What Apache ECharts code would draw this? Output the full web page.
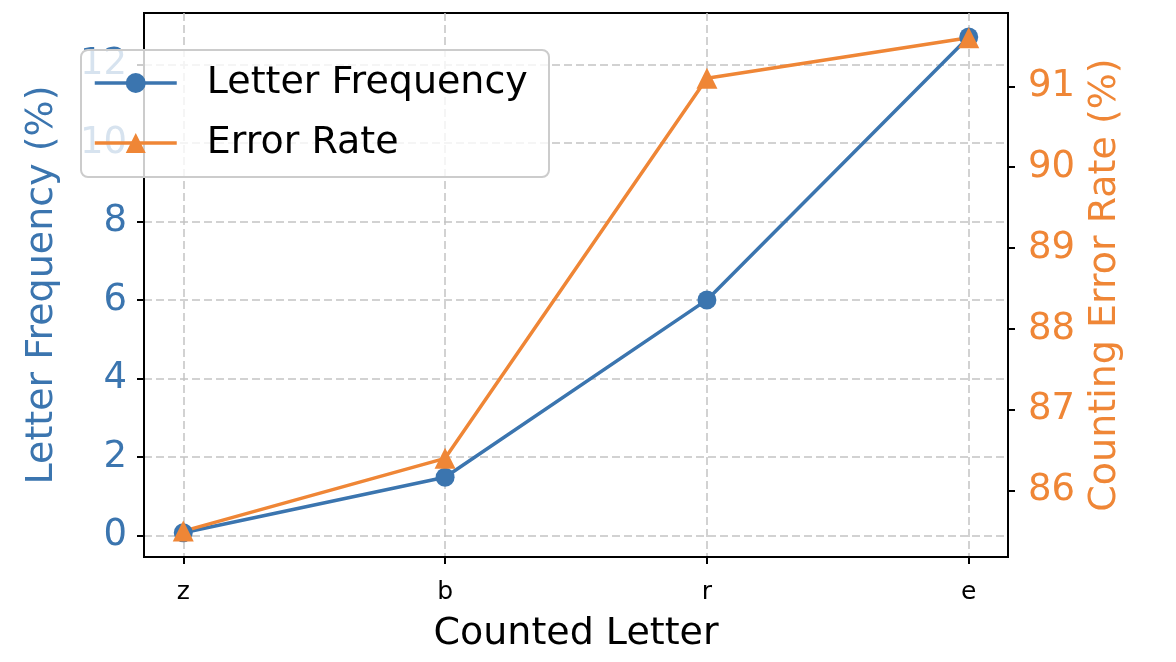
<!DOCTYPE html>
<html>
<head>
<meta charset="utf-8">
<script src="https://cdn.jsdelivr.net/npm/echarts@6/dist/echarts.min.js"></script>
<style>
  html, body { margin: 0; padding: 0; background: #fff; }
  #chart { width: 1176px; height: 662px; }
</style>
</head>
<body>
<div id="chart"></div>
<script>
// letters on the x axis, in plotted order
const letters = ['z', 'b', 'r', 'e'];
// letter frequency (%) - left axis
const freqValues = [0.07, 1.48, 6.0, 12.7];
// counting error rate (%) - right axis
const errorValues = [85.5, 86.4, 91.1, 91.6];
const freqTicks = [0, 2, 4, 6, 8, 10, 12];
const errorTicks = [86, 87, 88, 89, 90, 91];
const letterTicks = [0, 1, 2, 3];

const blue = '#3b75af';
const orange = '#ef8636';
const font = 'DejaVu Sans';

const chart = echarts.init(document.getElementById('chart'));

chart.setOption({
    animation: false,
    textStyle: { fontFamily: font },
    grid: {
        left: 144, right: 168, top: 13, bottom: 105,
        show: true,
        borderColor: '#000',
        borderWidth: 2,
        backgroundColor: 'transparent'
    },
    // legend frame (semi-transparent, sits over the tick labels)
    graphic: {
        elements: [{
            type: 'rect',
            left: 80,
            top: 49,
            z: 3,
            shape: { width: 468, height: 127, r: 7 },
            style: { fill: 'rgba(255,255,255,0.8)', stroke: '#cccccc', lineWidth: 2 }
        }]
    },
    legend: {
        left: 80,
        top: 49,
        z: 5,
        orient: 'vertical',
        align: 'left',
        padding: [15, 18, 13, 13],
        backgroundColor: 'rgba(0,0,0,0)',
        borderWidth: 0,
        itemWidth: 82,
        itemHeight: 25,
        itemGap: 22,
        lineStyle: { width: 3.5 },
        textStyle: {
            fontFamily: font,
            fontSize: 38,
            color: '#000',
            padding: [0, 0, 0, 25]
        },
        data: ['Letter Frequency', 'Error Rate']
    },
    xAxis: {
        type: 'value',
        min: -0.15,
        max: 3.15,
        name: 'Counted Letter',
        nameLocation: 'middle',
        nameGap: 58,
        nameTextStyle: { fontSize: 38, color: '#000', fontFamily: font },
        axisLine: { onZero: false, lineStyle: { color: '#000', width: 2 } },
        axisTick: { customValues: letterTicks, length: 7, lineStyle: { color: '#000', width: 2 } },
        axisLabel: {
            customValues: letterTicks,
            fontSize: 25,
            color: '#000',
            margin: 23,
            formatter: v => letters[Math.round(v)]
        },
        splitLine: { show: true, lineStyle: { color: '#c4c4c4', type: [8, 4], width: 1.5 } }
    },
    yAxis: [{
        type: 'value',
        min: -0.55,
        max: 13.31,
        position: 'left',
        name: 'Letter Frequency (%)',
        nameLocation: 'middle',
        nameGap: 83,
        nameTextStyle: { fontSize: 38, color: blue, fontFamily: font },
        axisLine: { show: true, onZero: false, lineStyle: { color: '#000', width: 2 } },
        axisTick: { show: true, customValues: freqTicks, length: 7, lineStyle: { color: '#000', width: 2 } },
        axisLabel: { customValues: freqTicks, fontSize: 37, color: blue, margin: 17 },
        splitLine: { show: true, lineStyle: { color: '#c4c4c4', type: [8, 4], width: 1.5 } }
    }, {
        type: 'value',
        min: 85.18,
        max: 91.907,
        position: 'right',
        name: 'Counting Error Rate (%)',
        nameLocation: 'middle',
        nameGap: 78,
        nameTextStyle: { fontSize: 38, color: orange, fontFamily: font },
        axisLine: { show: true, onZero: false, lineStyle: { color: '#000', width: 2 } },
        axisTick: { show: true, customValues: errorTicks, length: 7, lineStyle: { color: '#000', width: 2 } },
        axisLabel: { customValues: errorTicks, fontSize: 37, color: orange, margin: 20 },
        splitLine: { show: false }
    }],
    series: [{
        name: 'Letter Frequency',
        type: 'line',
        yAxisIndex: 0,
        symbol: 'circle',
        symbolSize: 19,
        color: blue,
        lineStyle: { width: 3.5, color: blue },
        itemStyle: { color: blue },
        data: freqValues.map((v, i) => [i, v])
    }, {
        name: 'Error Rate',
        type: 'line',
        yAxisIndex: 1,
        symbol: 'triangle',
        symbolSize: 21,
        color: orange,
        lineStyle: { width: 3.5, color: orange },
        itemStyle: { color: orange },
        data: errorValues.map((v, i) => [i, v])
    }]
});
</script>
</body>
</html>
